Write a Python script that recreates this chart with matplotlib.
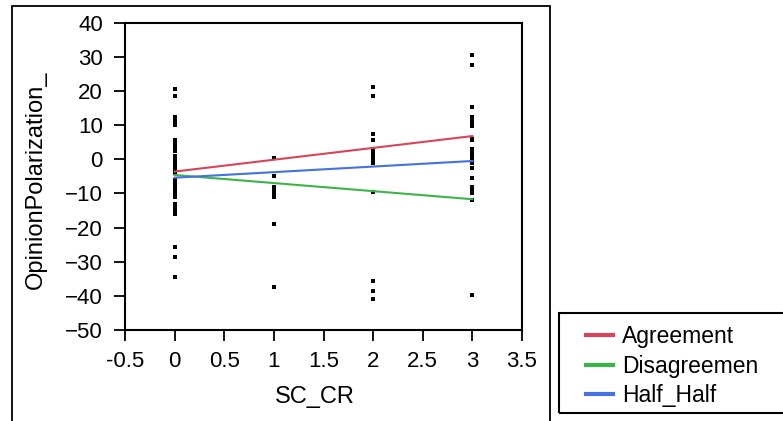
import matplotlib
matplotlib.use('Agg')
import matplotlib.pyplot as plt
from matplotlib.patches import Rectangle
from matplotlib.lines import Line2D

plt.rcParams['font.family'] = ['Liberation Sans', 'DejaVu Sans']

# scatter data, one list per SC_CR level
sc_levels = [0, 1, 2, 3]
op_at_0 = [20.6, 18.4, 12.5, 12, 11, 10.5, 10, 5.5, 5, 4, 3, 2.5, 1, 0, -0.5, -1, -2, -3, -4,
           -6, -7, -8, -9, -10, -11, -13, -14, -15, -16, -25.8, -28.7, -34.6]
op_at_1 = [0.5, -4.9, -8, -9, -10, -11, -19, -37.5]
op_at_2 = [21.3, 18.4, 7.3, 5.6, 3, 2, 1, 0.5, 0, -1, -9.6, -35.7, -38.6, -41]
op_at_3 = [30.5, 27.7, 15.4, 12.5, 11.5, 11, 9.6, 6, 5.5, 3, 2, 1, 0, -1, -2.6, -5.4, -8, -9, -10,
           -11.9, -39.8]

# fitted lines (value at SC_CR = 0 and 3)
fit_x = [0, 3]
agreement_fit = [-3.6, 6.8]
disagree_fit = [-4.6, -11.7]
half_fit = [-5.4, -0.5]
group_names = ['Agreement', 'Disagreemen', 'Half_Half']
group_colors = ['#d64558', '#3bb54a', '#4472e0']

fig = plt.figure(figsize=(7.83, 4.21), dpi=100)
ax = fig.add_axes([125 / 783, 1 - 330 / 421, 397 / 783, 307.3 / 421])

for lvl, vals in zip(sc_levels, [op_at_0, op_at_1, op_at_2, op_at_3]):
    ax.plot([lvl] * len(vals), vals, 's', color='black', markersize=2.3, markeredgewidth=0)

for fit, col in zip([agreement_fit, disagree_fit, half_fit], group_colors):
    ax.plot(fit_x, fit, color=col, linewidth=1.5, zorder=3)

ax.set_xlim(-0.5, 3.5)
ax.set_ylim(-50, 40)
ax.set_xticks([-0.5, 0, 0.5, 1, 1.5, 2, 2.5, 3, 3.5])
ax.set_xticklabels(['-0.5', '0', '0.5', '1', '1.5', '2', '2.5', '3', '3.5'])
ax.set_yticks(range(-50, 41, 10))
ax.tick_params(axis='both', direction='out', length=8, width=1.3, labelsize=16, pad=7,
               top=False, right=False)
ax.tick_params(axis='y', pad=8)
for s in ax.spines.values():
    s.set_linewidth(1.5)

ax.set_xlabel('SC_CR', fontsize=17)
ax.xaxis.set_label_coords((315 - 125) / 397, -(386 - 330) / 307.3)
ax.set_ylabel('OpinionPolarization_', fontsize=17)
ax.yaxis.set_label_coords(-(125 - 47) / 397, 0.49)

# outer frame around plot area
fig.patches.append(Rectangle((12 / 783, -0.05), 538 / 783, 1.05 - 6 / 421, transform=fig.transFigure,
                             fill=False, edgecolor='black', linewidth=1.3))

# legend box
fig.patches.append(Rectangle((559 / 783, 1 - 413 / 421), 240 / 783, 100 / 421, transform=fig.transFigure,
                             fill=False, edgecolor='black', linewidth=1.5))
handles = [Line2D([0], [0], color=c, linewidth=3) for c in group_colors]
fig.legend(handles, group_names, loc='upper left', bbox_to_anchor=(575 / 783, 1 - 314 / 421),
           frameon=False, fontsize=16.5, handlelength=1.15, handletextpad=0.42, labelspacing=0.27,
           borderpad=0)

fig.savefig('out.png', dpi=100)
